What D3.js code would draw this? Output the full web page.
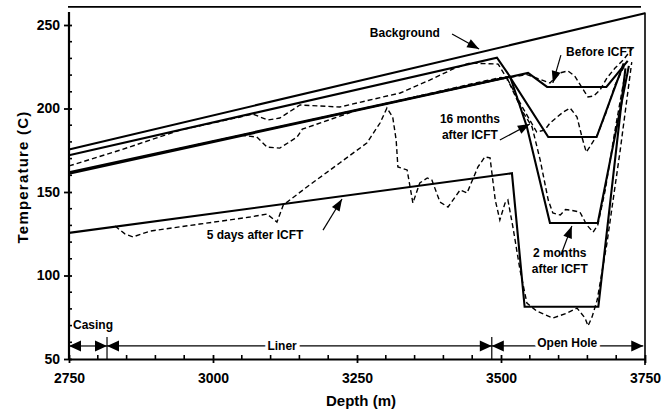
<!DOCTYPE html>
<html>
<head>
<meta charset="utf-8">
<script src="https://cdn.jsdelivr.net/npm/d3@7"></script>
<style>
body { margin: 0; background: #fff; }
text { font-family: Arial, "Liberation Sans", sans-serif; font-weight: bold; fill: #000; }
</style>
</head>
<body>
<script>
"use strict";

// model profiles (depth m, temperature C)
const background = [[2750,175.5],[3750,257]];
const beforeICFT = [[2750,161],[3547,221.3],[3580,212.9],[3683,212.9],[3720,228.5]];
const months16 = [[2750,161.8],[3515,219],[3582,182.9],[3666,182.9],[3713,227]];
const months2 = [[2750,172],[3493,230.4],[3516,218.9],[3545,188.9],[3585,131.4],[3668,131.4],[3722,225.5]];
const days5 = [[2750,125.5],[3519,161.2],[3541,81.3],[3669,81.3],[3716,224]];

// measured logs (dashed)
const logBefore = [[2750,161.5],[3050,184],[3076,182.9],[3094,176.9],[3116,176.3],[3146,182.9],[3155,187.6],
  [3250,199],[3400,210.3],[3500,217.8],[3545,220.3],[3585,215.3],[3602,221.3],[3616,222.5],[3628,219.5],
  [3641,212.3],[3651,206.9],[3661,207.5],[3672,211.1],[3684,218.3],[3698,224.2],[3712,229],[3728,236]];
const log16 = [[2900,172.8],[3300,203],[3450,214.8],[3500,218.6],[3512,217.1],[3536,201.5],[3562,185.9],
  [3576,187.1],[3585,191.3],[3608,197.9],[3620,200.3],[3632,194.9],[3641,182.3],[3648,173.9],[3655,177.5],
  [3667,184.1],[3681,196.1],[3698,214.1],[3715,226]];
const log2 = [[2750,165.6],[2839,175.1],[2943,187.1],[3047,194.9],[3069,196.7],[3095,193.1],[3116,194.3],
  [3151,202.1],[3220,200.9],[3325,209.3],[3377,217.1],[3420,224.2],[3446,227.2],[3495,226.6],[3512,217.1],
  [3536,199.1],[3554,188.9],[3568,169.2],[3582,145.2],[3590,137.4],[3603,136.2],[3612,139.5],[3620,139.2],
  [3637,138],[3649,130.2],[3660,126],[3668,130.2],[3681,151.2],[3698,187.1],[3715,220.1]];
const log5 = [[2830,129.6],[2847,124.9],[2861,123.1],[2891,126.6],[2977,130.8],[3064,135],[3094,136.8],
  [3111,132],[3122,142.2],[3163,153],[3220,167.4],[3267,179.3],[3290,191.3],[3302,200.3],[3312,194.9],
  [3318,181.1],[3321,165],[3337,163.2],[3347,143.4],[3359,155.4],[3372,158.4],[3380,157.2],[3394,144],
  [3408,141],[3429,151.2],[3441,149.4],[3460,165],[3472,171],[3481,170.4],[3490,145.2],[3498,133.2],
  [3507,143.4],[3512,145.2],[3521,128.4],[3533,103.3],[3545,83.5],[3562,78.7],[3590,74.5],[3615,77.5],
  [3632,80.5],[3646,74.5],[3651,69.8],[3658,75.1],[3667,85.3],[3684,119.5],[3707,175.1],[3727,227.8]];

// well sections along the bottom
const sectionNames = ["Casing","Liner","Open Hole"];
const sectionBounds = [2750,2816,3484,3747];

// axis ticks
const xTicks = [2750,3000,3250,3500,3750];
const yTicks = [50,100,150,200,250];

// callouts: text lines, text centre, arrow start, arrow tip (data coords)
const callouts = [
  {lines:["Background"], at:[3333,245.2], from:[3415,244.6], to:[3462,235.6]},
  {lines:["Before ICFT"], at:[3672,233.8], from:[3604,232], to:[3590,215.3]},
  {lines:["16 months","after ICFT"], at:[3446,188.9], from:[3498,181.1], to:[3550,190.7]},
  {lines:["5 days after ICFT"], at:[3073,124.3], from:[3191,127.2], to:[3224,145.8]},
  {lines:["2 months","after ICFT"], at:[3602,108.7], from:[3604,112.3], to:[3623,129.6]}
];

let svg = d3.select('body').append('svg')
  .attr('width', 668)
  .attr('height', 411);

let x = d3.scaleLinear().domain([2750,3750]).range([69,645]);
let y = d3.scaleLinear().domain([50,250]).range([359,25]);

let line = d3.line()
  .x(function(d) { return x(d[0]); })
  .y(function(d) { return y(d[1]); });

function arrow(g, x1, y1, x2, y2, len, wid, sw) {
  g.append('line')
    .attr('x1', x1).attr('y1', y1).attr('x2', x2).attr('y2', y2)
    .attr('stroke', '#000').attr('stroke-width', sw);
  let a = Math.atan2(y2 - y1, x2 - x1);
  let bx = x2 - len * Math.cos(a), by = y2 - len * Math.sin(a);
  let px = wid / 2 * Math.sin(a), py = wid / 2 * Math.cos(a);
  g.append('polygon')
    .attr('points', [[x2,y2],[bx+px,by-py],[bx-px,by+py]].map(function(p) { return p.join(','); }).join(' '))
    .attr('fill', '#000');
}

// frame (top and right)
svg.append('line')
  .attr('x1', 68).attr('x2', x(3750) - 4)
  .attr('y1', y(260.8)).attr('y2', y(260.8))
  .attr('stroke', '#000').attr('stroke-width', 1.8);
svg.append('line')
  .attr('x1', x(3750)).attr('x2', x(3750))
  .attr('y1', y(257.5)).attr('y2', y(50) + 6)
  .attr('stroke', '#000').attr('stroke-width', 1.6);

// minor ticks
let minorX = d3.range(2750, 3751, 50).filter(function(d) { return xTicks.indexOf(d) < 0; });
let minorY = d3.range(50, 251, 10).filter(function(d) { return yTicks.indexOf(d) < 0; });

svg.selectAll('.mx').data(minorX).enter().append('line')
  .attr('x1', function(d) { return x(d); }).attr('x2', function(d) { return x(d); })
  .attr('y1', y(50) - 4).attr('y2', y(50))
  .attr('stroke', '#000').attr('stroke-width', 1.6);
svg.selectAll('.my').data(minorY).enter().append('line')
  .attr('x1', x(2750) - 1).attr('x2', x(2750) + 3)
  .attr('y1', function(d) { return y(d); }).attr('y2', function(d) { return y(d); })
  .attr('stroke', '#000').attr('stroke-width', 1.6);

// axes
let xAxis = svg.append('g')
  .attr('transform', 'translate(0,' + y(50) + ')')
  .call(d3.axisBottom(x).tickValues(xTicks).tickFormat(d3.format('d'))
    .tickSize(4).tickSizeOuter(0).tickPadding(10));
xAxis.selectAll('.tick line').attr('y1', -4).attr('stroke-width', 1.8);
xAxis.select('.domain').attr('stroke-width', 2);
xAxis.selectAll('text').attr('font-size', 14).attr('font-family', 'Arial').attr('font-weight', 'bold').attr('fill', '#000');

let yAxis = svg.append('g')
  .attr('transform', 'translate(' + x(2750) + ',0)')
  .call(d3.axisLeft(y).tickValues(yTicks).tickFormat(d3.format('d'))
    .tickSize(5).tickSizeOuter(0).tickPadding(4));
yAxis.selectAll('.tick line').attr('x2', 3).attr('x1', -5).attr('stroke-width', 1.8);
yAxis.select('.domain').attr('d', 'M0,' + y(50) + 'V' + y(257.8)).attr('stroke-width', 2.2);
yAxis.selectAll('text').attr('font-size', 14).attr('font-family', 'Arial').attr('font-weight', 'bold').attr('fill', '#000');

// axis titles
svg.append('text')
  .attr('x', 361).attr('y', 406)
  .attr('text-anchor', 'middle')
  .attr('font-size', 15)
  .text('Depth (m)');
svg.append('text')
  .attr('transform', 'translate(28,177) rotate(-90)')
  .attr('text-anchor', 'middle')
  .attr('font-size', 15)
  .attr('letter-spacing', 1.2)
  .text('Temperature (C)');

// measured logs
let logs = [logBefore, log16, log2, log5];
svg.selectAll('.log').data(logs).enter().append('path')
  .attr('class', 'log')
  .attr('d', line)
  .attr('fill', 'none')
  .attr('stroke', '#000')
  .attr('stroke-width', 1.4)
  .attr('stroke-dasharray', '5,3');

// model profiles
let models = [background, beforeICFT, months16, months2, days5];
svg.selectAll('.model').data(models).enter().append('path')
  .attr('class', 'model')
  .attr('d', line)
  .attr('fill', 'none')
  .attr('stroke', '#000')
  .attr('stroke-width', 2.1)
  .attr('stroke-linejoin', 'miter');

// callouts
let cg = svg.append('g');
callouts.forEach(function(c) {
  let t = cg.append('text')
    .attr('x', x(c.at[0]))
    .attr('y', y(c.at[1]) - (c.lines.length - 1) * 8 + 4)
    .attr('text-anchor', 'middle')
    .attr('font-size', 12);
  c.lines.forEach(function(s, i) {
    t.append('tspan').attr('x', x(c.at[0])).attr('dy', i === 0 ? 0 : 16).text(s);
  });
  arrow(cg, x(c.from[0]), y(c.from[1]), x(c.to[0]), y(c.to[1]), 12, 9, 1.2);
});

// well sections
let sy = y(57.8);
let sg = svg.append('g');
for (let i = 0; i < sectionNames.length; i++) {
  let a = x(sectionBounds[i]), b = x(sectionBounds[i + 1]);
  let m = (a + b) / 2;
  arrow(sg, m, sy, a, sy, 12, 11, 1.2);
  arrow(sg, m, sy, b, sy, 12, 11, 1.2);
}
[sectionBounds[1], sectionBounds[2]].forEach(function(d) {
  sg.append('line')
    .attr('x1', x(d)).attr('x2', x(d))
    .attr('y1', sy - 9).attr('y2', y(50) + 1)
    .attr('stroke', '#000').attr('stroke-width', 1.2);
});
sg.append('text')
  .attr('x', x(sectionBounds[0]) + 4).attr('y', y(68))
  .attr('font-size', 12)
  .text(sectionNames[0]);
sg.append('text')
  .attr('x', x(3120)).attr('y', sy + 4)
  .attr('text-anchor', 'middle')
  .attr('font-size', 12)
  .attr('stroke', '#fff').attr('stroke-width', 6).attr('paint-order', 'stroke')
  .text(sectionNames[1]);
sg.append('text')
  .attr('x', x(3615)).attr('y', sy + 1)
  .attr('text-anchor', 'middle')
  .attr('font-size', 12)
  .attr('stroke', '#fff').attr('stroke-width', 6).attr('paint-order', 'stroke')
  .text(sectionNames[2]);
</script>
</body>
</html>
